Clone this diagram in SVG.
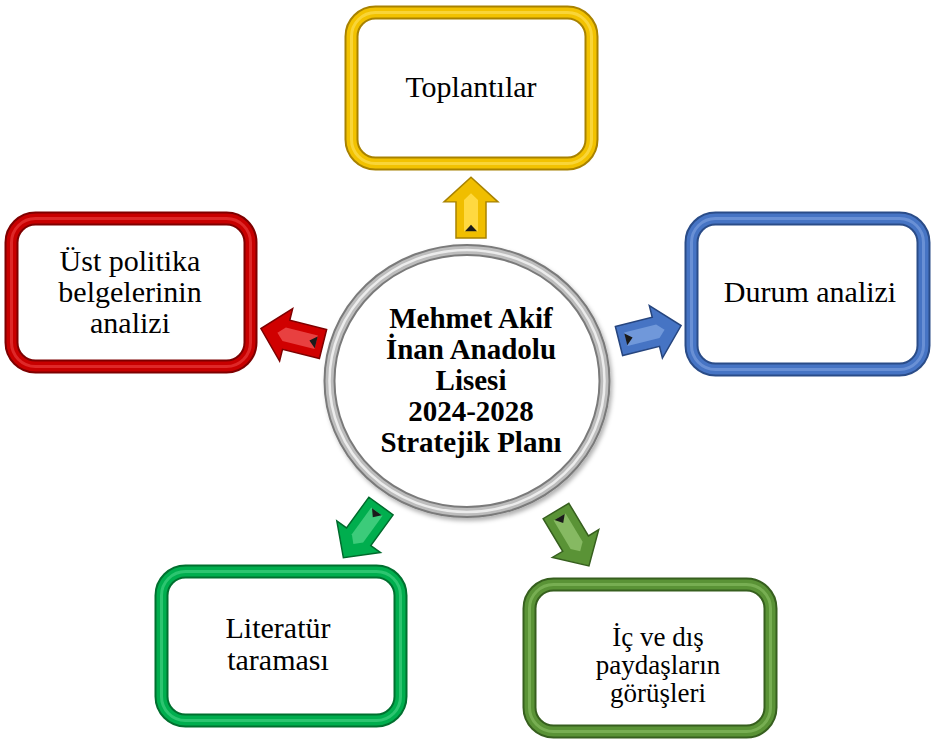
<svg xmlns="http://www.w3.org/2000/svg" width="931" height="745" viewBox="0 0 931 745">
<defs>
<style>
.t{font-family:"Liberation Serif","Times New Roman",serif;font-size:30px;fill:#000;text-anchor:middle}
.tb{font-family:"Liberation Serif","Times New Roman",serif;font-size:29px;font-weight:bold;fill:#000;text-anchor:middle}
.fr{fill:#fff}
.y .d{stroke:#A88200}.y .m{stroke:#F2C200}.y .h{stroke:#FFE566}
.b .d{stroke:#2A4C88}.b .m{stroke:#4674C4}.b .h{stroke:#86A8E4}
.r .d{stroke:#7E0000}.r .m{stroke:#C80000}.r .h{stroke:#F04848}
.g .d{stroke:#00702F}.g .m{stroke:#00AE4E}.g .h{stroke:#50D88C}
.o .d{stroke:#365F1E}.o .m{stroke:#5A9336}.o .h{stroke:#8FC46A}
.d{fill:none;stroke-width:14}
.m{fill:none;stroke-width:10}
.h{fill:none;stroke-width:3;stroke-opacity:0.55}
.ao{stroke-width:1.5;stroke-linejoin:miter}
.y .ao{fill:#F0BE00;stroke:#A88200}.y .ai{fill:#FFD940}
.b .ao{fill:#4674C4;stroke:#26457E}.b .ai{fill:#7098DA}
.r .ao{fill:#D00000;stroke:#7E0000}.r .ai{fill:#E84040}
.g .ao{fill:#00AE4E;stroke:#006A2C}.g .ai{fill:#3CCB7A}
.o .ao{fill:#5A9336;stroke:#365F1E}.o .ai{fill:#86B962}
.ai{stroke:none}
.an{fill:#1a1a1a}
</style>
<filter id="sh" x="-10%" y="-10%" width="120%" height="120%">
<feDropShadow dx="2" dy="3" stdDeviation="2" flood-color="#000" flood-opacity="0.3"/>
</filter>
</defs>
<rect width="931" height="745" fill="#fff"/>

<g id="center">
<ellipse cx="467" cy="381" rx="137.5" ry="131" fill="#fff" stroke="#7a7a7a" stroke-width="12" filter="url(#sh)"/>
<ellipse cx="467" cy="381" rx="137.5" ry="131" fill="none" stroke="#bdbdbd" stroke-width="8"/>
<ellipse cx="467" cy="381" rx="137.5" ry="131" fill="none" stroke="#ececec" stroke-width="2.5"/>
<text class="tb" x="471" y="328">Mehmet Akif</text>
<text class="tb" x="471" y="359">İnan Anadolu</text>
<text class="tb" x="471" y="390">Lisesi</text>
<text class="tb" x="471" y="421">2024-2028</text>
<text class="tb" x="471" y="452">Stratejik Planı</text>
</g>

<g id="toplantilar" class="y">
<rect class="fr" x="351.5" y="12.5" width="240" height="151" rx="24" filter="url(#sh)"/>
<rect class="d" x="351.5" y="12.5" width="240" height="151" rx="24"/>
<rect class="m" x="351.5" y="12.5" width="240" height="151" rx="24"/>
<rect class="h" x="351.5" y="12.5" width="240" height="151" rx="24"/>
<text class="t" x="471" y="97">Toplantılar</text>
</g>

<g id="durum" class="b">
<rect class="fr" x="691.5" y="218.5" width="232" height="151" rx="24" filter="url(#sh)"/>
<rect class="d" x="691.5" y="218.5" width="232" height="151" rx="24"/>
<rect class="m" x="691.5" y="218.5" width="232" height="151" rx="24"/>
<rect class="h" x="691.5" y="218.5" width="232" height="151" rx="24"/>
<text class="t" x="810" y="302">Durum analizi</text>
</g>

<g id="ustpolitika" class="r">
<rect class="fr" x="11.5" y="218.5" width="239" height="148" rx="24" filter="url(#sh)"/>
<rect class="d" x="11.5" y="218.5" width="239" height="148" rx="24"/>
<rect class="m" x="11.5" y="218.5" width="239" height="148" rx="24"/>
<rect class="h" x="11.5" y="218.5" width="239" height="148" rx="24"/>
<text class="t" x="130" y="271">Üst politika</text>
<text class="t" x="130" y="302">belgelerinin</text>
<text class="t" x="130" y="333">analizi</text>
</g>

<g id="literatur" class="g">
<rect class="fr" x="161.5" y="571.5" width="239" height="149" rx="24" filter="url(#sh)"/>
<rect class="d" x="161.5" y="571.5" width="239" height="149" rx="24"/>
<rect class="m" x="161.5" y="571.5" width="239" height="149" rx="24"/>
<rect class="h" x="161.5" y="571.5" width="239" height="149" rx="24"/>
<text class="t" x="278" y="638">Literatür</text>
<text class="t" x="278" y="670">taraması</text>
</g>

<g id="paydaslar" class="o">
<rect class="fr" x="529.5" y="584.5" width="241" height="147" rx="24" filter="url(#sh)"/>
<rect class="d" x="529.5" y="584.5" width="241" height="147" rx="24"/>
<rect class="m" x="529.5" y="584.5" width="241" height="147" rx="24"/>
<rect class="h" x="529.5" y="584.5" width="241" height="147" rx="24"/>
<text class="t" x="658" y="646" style="font-size:27px">İç ve dış</text>
<text class="t" x="658" y="674" style="font-size:27px">paydaşların</text>
<text class="t" x="658" y="702" style="font-size:27px">görüşleri</text>
</g>

<g id="connectors">
<g class="y" transform="translate(471,238) rotate(-90) scale(0.95,1)">
<polygon class="ao" points="0,-15 38,-15 38,-27 64,0 38,27 38,15 0,15"/>
<polygon class="ai" points="7,-7 40,-7 47,0 40,7 7,7"/>
<polygon class="an" points="7,-6 7,6 14,0"/>
</g>
<g class="b" transform="translate(619,341) rotate(-14)">
<polygon class="ao" points="0,-15 38,-15 38,-27 64,0 38,27 38,15 0,15"/>
<polygon class="ai" points="7,-7 40,-7 47,0 40,7 7,7"/>
<polygon class="an" points="7,-6 7,6 14,0"/>
</g>
<g class="r" transform="translate(323,344) rotate(194)">
<polygon class="ao" points="0,-15 38,-15 38,-27 64,0 38,27 38,15 0,15"/>
<polygon class="ai" points="7,-7 40,-7 47,0 40,7 7,7"/>
<polygon class="an" points="7,-6 7,6 14,0"/>
</g>
<g class="g" transform="translate(381,506) rotate(126)">
<polygon class="ao" points="0,-15 38,-15 38,-27 64,0 38,27 38,15 0,15"/>
<polygon class="ai" points="7,-7 40,-7 47,0 40,7 7,7"/>
<polygon class="an" points="7,-6 7,6 14,0"/>
</g>
<g class="o" transform="translate(556,511) rotate(59)">
<polygon class="ao" points="0,-15 38,-15 38,-27 64,0 38,27 38,15 0,15"/>
<polygon class="ai" points="7,-7 40,-7 47,0 40,7 7,7"/>
<polygon class="an" points="7,-6 7,6 14,0"/>
</g>
</g>
</svg>
